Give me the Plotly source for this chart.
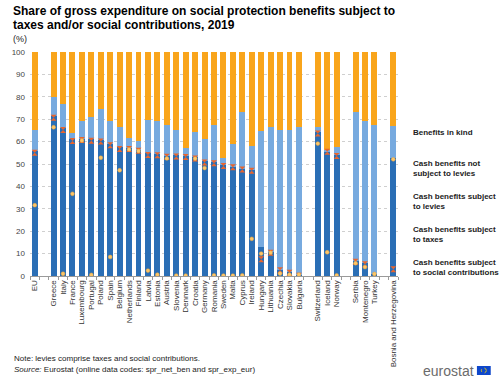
import plotly.graph_objects as go

# ---------------- data ----------------
countries = ["EU", None, "Greece", "Italy", "France", "Luxembourg", "Portugal", "Poland", "Spain",
             "Belgium", "Netherlands", "Finland", "Latvia", "Estonia", "Austria", "Slovenia",
             "Denmark", "Croatia", "Germany", "Romania", "Sweden", "Malta", "Cyprus", "Ireland",
             "Hungary", "Lithuania", "Czechia", "Slovakia", "Bulgaria", None,
             "Switzerland", "Iceland", "Norway", None, "Serbia", "Montenegro", "Turkey", None,
             "Bosnia and Herzegovina"]

cash_subject_to_levies = [55.6, None, 71.5, 66.0, 61.0, 61.0, 61.0, 60.7, 59.1,
                          57.5, 57.3, 56.3, 54.8, 54.5, 53.7, 54.0,
                          53.7, 53.0, 51.2, 50.7, 49.6, 48.8, 47.8, 47.5,
                          12.9, 10.8, 2.9, 1.8, 0.6, None,
                          64.3, 55.8, 54.0, None, 6.7, 5.6, 1.0, None,
                          52.5]

cash_not_subject_to_levies = [9.6, None, 8.4, 10.7, 2.7, 8.1, 10.2, 13.9, 10.2,
                              9.2, 4.5, 3.8, 14.9, 14.6, 13.5, 11.4,
                              3.6, 11.2, 9.8, 16.6, 3.2, 10.0, 25.2, 10.7,
                              52.0, 55.9, 62.5, 63.6, 65.7, None,
                              2.1, 0.5, 3.5, None, 66.4, 63.4, 66.5, None,
                              14.5]

benefits_in_kind = [34.8, None, 20.1, 23.3, 36.3, 30.9, 28.8, 25.4, 30.7,
                    33.3, 38.2, 39.9, 30.3, 30.9, 32.8, 34.6,
                    42.7, 35.8, 39.0, 32.7, 47.2, 41.2, 27.0, 41.8,
                    35.1, 33.3, 34.6, 34.6, 33.7, None,
                    33.6, 43.7, 42.5, None, 26.9, 31.0, 32.5, None,
                    33.0]

cash_subject_to_taxes = [55.0, None, 70.7, 65.2, 60.3, 60.7, 60.4, 60.0, 58.4,
                         56.7, 56.7, 55.9, 54.0, 53.9, 53.2, 53.3,
                         53.1, 52.4, 50.7, 50.3, 49.1, 48.5, 47.5, 47.0,
                         7.5, 10.4, 2.6, 1.4, 0.1, None,
                         63.6, 55.5, 53.6, None, 6.4, 5.3, None, None,
                         3.0]

cash_subject_to_social_contr = [31.6, None, 66.4, 1.0, 36.7, 60.5, 0.5, 52.8, 8.5,
                                47.2, 56.5, 55.8, 2.4, 0.6, 52.5, 0.2,
                                0.2, 52.4, 48.2, 0.3, 0.2, 0.2, 0.3, 16.6,
                                10.0, 10.4, 1.1, 0.6, 0.6, None,
                                59.1, 10.6, 0.3, None, 5.7, 4.0, 0.9, None,
                                52.1]

y_ticks = [0, 10, 20, 30, 40, 50, 60, 70, 80, 90, 100]

# ---------------- styling ----------------
W, H = 500, 380
PL, PR, PT, PB = 25, 398, 52, 276          # plot area in pixels
FONT = "Liberation Sans, Arial, sans-serif"
C_KIND = "#F9A51B"
C_NOT = "#77AADF"
C_LEV = "#2A6EB5"
C_TAX = "#E8652E"
C_SOC = "#FBC66A"

# unique category names (gaps get distinct blank labels)
cats = []
gap = 0
for c in countries:
    if c is None:
        gap += 1
        cats.append(" " * gap)
    else:
        cats.append(c)

fig = go.Figure()
bar_kw = dict(x=cats, width=0.63, showlegend=False, hoverinfo="skip", marker_line_width=0)
fig.add_bar(y=cash_subject_to_levies, marker_color=C_LEV, name="Cash benefits subject to levies", **bar_kw)
fig.add_bar(y=cash_not_subject_to_levies, marker_color=C_NOT, name="Cash benefits not subject to levies", **bar_kw)
fig.add_bar(y=benefits_in_kind, marker_color=C_KIND, name="Benefits in kind", **bar_kw)

fig.add_scatter(x=cats, y=cash_subject_to_taxes, mode="markers", showlegend=False,
                marker=dict(symbol="hourglass", size=6, color=C_TAX, line=dict(width=0)),
                name="Cash benefits subject to taxes")
fig.add_scatter(x=cats, y=cash_subject_to_social_contr, mode="markers", showlegend=False,
                marker=dict(symbol="circle", size=3.8, color=C_SOC, line=dict(width=0.5, color="#F2A93B")),
                name="Cash benefits subject to social contributions")


def px_x(px):
    return (px - PL) / (PR - PL)


def px_y(py):
    return (PB - py) / (PB - PT)


# ---------------- manual legend (overlay pixel axis) ----------------
legend_items = [
    ("Benefits in kind", "square", C_KIND, 132),
    ("Cash benefits not<br>subject to levies", "square", C_NOT, 168.5),
    ("Cash benefits subject<br>to levies", "square", C_LEV, 201.5),
    ("Cash benefits subject<br>to taxes", "hourglass", C_TAX, 234.5),
    ("Cash benefits subject<br>to social contributions", "circle", C_SOC, 267),
]
first_line_offset = {1: 0, 2: -4.5}
for text, sym, col, yc in legend_items:
    nlines = text.count("<br>") + 1
    ym = yc + first_line_offset[nlines]
    fig.add_scatter(x=[407], y=[ym], xaxis="x2", yaxis="y2", mode="markers", showlegend=False,
                    cliponaxis=False, hoverinfo="skip",
                    marker=dict(symbol=sym, size={"square": 4.5, "hourglass": 5.5, "circle": 4}[sym],
                                color=col, line=dict(width=0)))
    fig.add_annotation(x=px_x(411), y=px_y(yc), xref="paper", yref="paper",
                       text="<b>" + text + "</b>", showarrow=False, xanchor="left", yanchor="middle",
                       align="left", font=dict(family=FONT, size=8, color="#222222"))

# title and notes
fig.add_annotation(x=px_x(6), y=px_y(11), xref="paper", yref="paper", showarrow=False,
                   xanchor="left", yanchor="middle",
                   text="<b>Share of gross expenditure on social protection benefits subject to</b>",
                   font=dict(family=FONT, size=12, color="#000000"))
fig.add_annotation(x=px_x(6), y=px_y(25), xref="paper", yref="paper", showarrow=False,
                   xanchor="left", yanchor="middle",
                   text="<b>taxes and/or social contributions, 2019</b>",
                   font=dict(family=FONT, size=12, color="#000000"))
fig.add_annotation(x=px_x(6), y=px_y(39), xref="paper", yref="paper", showarrow=False,
                   xanchor="left", yanchor="middle", text="(%)",
                   font=dict(family=FONT, size=9, color="#222222"))
fig.add_annotation(x=px_x(7), y=px_y(358), xref="paper", yref="paper", showarrow=False,
                   xanchor="left", yanchor="middle",
                   text="Note: levies comprise taxes and social contributions.",
                   font=dict(family=FONT, size=8, color="#222222"))
fig.add_annotation(x=px_x(7), y=px_y(369), xref="paper", yref="paper", showarrow=False,
                   xanchor="left", yanchor="middle",
                   text="<i>Source:</i> Eurostat (online data codes: spr_net_ben and spr_exp_eur)",
                   font=dict(family=FONT, size=8, color="#222222"))
fig.add_annotation(x=px_x(477), y=px_y(371), xref="paper", yref="paper", showarrow=False,
                   xanchor="right", yanchor="middle", text="eurostat",
                   font=dict(family=FONT, size=14, color="#6B6B6B"))
fig.add_shape(type="rect", xref="paper", yref="paper",
              x0=px_x(478), x1=px_x(492), y0=px_y(375), y1=px_y(366),
              fillcolor="#0E47CB", line=dict(width=0))
fig.add_shape(type="circle", xref="paper", yref="paper",
              x0=px_x(482.5), x1=px_x(487.5), y0=px_y(373), y1=px_y(368),
              fillcolor="rgba(0,0,0,0)", line=dict(width=0.8, color="#FFDD00", dash="dot"))

fig.update_layout(
    width=W, height=H,
    margin=dict(l=PL, r=W - PR, t=PT, b=H - PB, pad=0),
    barmode="stack",
    plot_bgcolor="white", paper_bgcolor="white",
    font=dict(family=FONT, size=8, color="#333333"),
    showlegend=False,
    hovermode=False,
    xaxis=dict(type="category", categoryorder="array", categoryarray=cats,
               tickmode="array", tickvals=cats, ticktext=cats,
               tickangle=-90, tickson="boundaries", ticks="outside", ticklen=3,
               tickcolor="#9a9a9a", showline=True, linecolor="#9a9a9a", linewidth=1,
               showgrid=False, tickfont=dict(family=FONT, size=8, color="#333333"),
               range=[-0.5, len(cats) - 0.5]),
    yaxis=dict(range=[0, 100], tickvals=y_ticks, showgrid=True, gridcolor="#cfcfcf",
               griddash="dot", gridwidth=1, zeroline=False, showline=False, ticks="",
               tickfont=dict(family=FONT, size=8, color="#444444"), ticklabelstandoff=4),
    xaxis2=dict(range=[PL, PR], overlaying="x", visible=False, fixedrange=True),
    yaxis2=dict(range=[PB, PT], overlaying="y", visible=False, fixedrange=True),
)

fig.write_html("out.html", config={"displayModeBar": False},
               post_script="document.body.style.margin='0';")
